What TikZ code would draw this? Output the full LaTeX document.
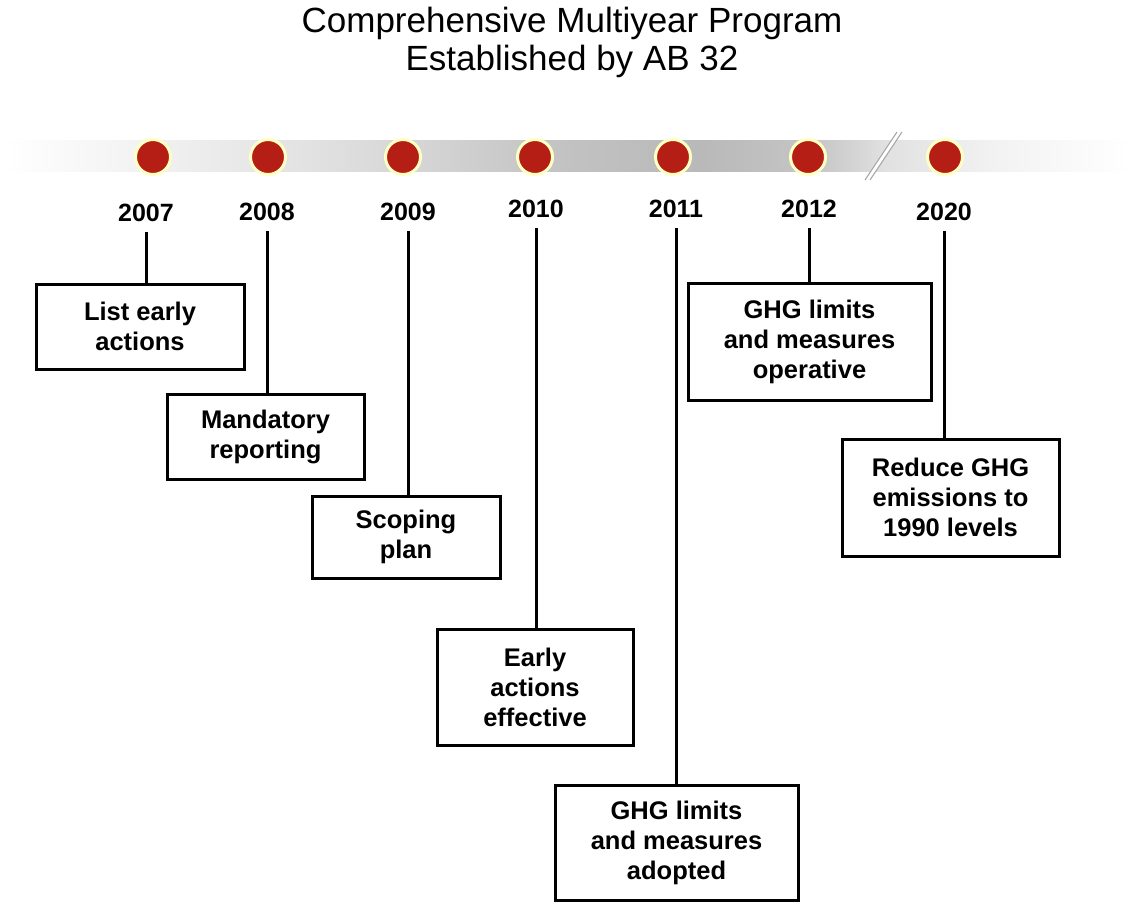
\documentclass[tikz,border=0pt]{standalone}
\usepackage{fontspec}
\setmainfont{Liberation Sans}
\usetikzlibrary{calc}
\definecolor{dotred}{HTML}{B41E14}
\definecolor{dotrim}{HTML}{FFFFC4}
\pgfdeclarehorizontalshading{barshade}{100bp}{color(0bp)=(white); color(25bp)=(white); color(31bp)=(gray!10); color(38bp)=(gray!22); color(43bp)=(gray!32); color(50bp)=(gray!48); color(56bp)=(gray!55); color(61bp)=(gray!45); color(63bp)=(gray!32); color(64bp)=(gray!24); color(69bp)=(gray!10); color(75bp)=(white); color(100bp)=(white)}
\tikzset{
	milestone/.style={circle, fill=dotred, draw=dotrim, line width=3pt, minimum size=35pt, inner sep=0pt},
	yearlabel/.style={font=\fontsize{25}{28}\selectfont\bfseries, inner sep=2pt},
	eventbox/.style={draw, line width=3pt, align=center, font=\fontsize{25.5}{30}\selectfont\bfseries, inner sep=0pt},
	link/.style={line width=3pt, shorten <=8pt}
}

\begin{document}
\begin{tikzpicture}[x=1pt, y=-1pt]
		%%%%% START %%%%%
		\useasboundingbox (0, 0) rectangle (1135, 903);
		
		% title
		\node[align=center, font=\fontsize{35}{38}\selectfont] (title) at (572, 42) {Comprehensive Multiyear Program\\Established by AB 32};
		
		% time bar
		\shade[shading=barshade] (5, 140) rectangle (1130, 171);
		\fill[white] (897, 132) -- (865, 180) -- (870, 180) -- (902, 132) -- cycle;
		\draw[gray!70, line width=1pt] (897, 132) -- (865, 180);
		\draw[gray!70, line width=1pt] (902, 132) -- (870, 180);
		
		% milestones
		\node[milestone] (d2007) at (153, 157) {};
		\node[milestone] (d2008) at (268, 157) {};
		\node[milestone] (d2009) at (403, 157) {};
		\node[milestone] (d2010) at (535, 157) {};
		\node[milestone] (d2011) at (673, 157) {};
		\node[milestone] (d2012) at (808, 157) {};
		\node[milestone] (d2020) at (945, 157) {};
		
		% years
		\node[yearlabel] (y2007) at (146, 213) {2007};
		\node[yearlabel] (y2008) at (267, 212) {2008};
		\node[yearlabel] (y2009) at (408, 212) {2009};
		\node[yearlabel] (y2010) at (536, 209) {2010};
		\node[yearlabel] (y2011) at (676, 209) {2011};
		\node[yearlabel] (y2012) at (809, 209) {2012};
		\node[yearlabel] (y2020) at (944, 212) {2020};
		
		% events
		\node[eventbox, minimum width=208pt, minimum height=85pt] (b2007) at (140, 326.5) {List early\\actions};
		\node[eventbox, minimum width=197pt, minimum height=85pt] (b2008) at (265.5, 436.5) {Mandatory\\reporting};
		\node[eventbox, minimum width=188pt, minimum height=82pt] (b2009) at (406, 537) {Scoping\\plan};
		\node[eventbox, minimum width=196pt, minimum height=116pt] (b2010) at (535, 687) {Early\\actions\\effective};
		\node[eventbox, minimum width=243pt, minimum height=115pt] (b2011) at (676.5, 842.5) {GHG limits\\and measures\\adopted};
		\node[eventbox, minimum width=243pt, minimum height=117pt] (b2012) at (809.5, 341.5) {GHG limits\\and measures\\operative};
		\node[eventbox, minimum width=217pt, minimum height=117pt] (b2020) at (950.5, 497.5) {Reduce GHG\\emissions to\\1990 levels};
		
		% links
		\draw[link] (y2007.south) -- (y2007.south |- b2007.north);
		\draw[link] (y2008.south) -- (y2008.south |- b2008.north);
		\draw[link] (y2009.south) -- (y2009.south |- b2009.north);
		\draw[link] (y2010.south) -- (y2010.south |- b2010.north);
		\draw[link] (y2011.south) -- (y2011.south |- b2011.north);
		\draw[link] (y2012.south) -- (y2012.south |- b2012.north);
		\draw[link] (y2020.south) -- (y2020.south |- b2020.north);
		%%%%% END %%%%%
	\end{tikzpicture}
\end{document}
